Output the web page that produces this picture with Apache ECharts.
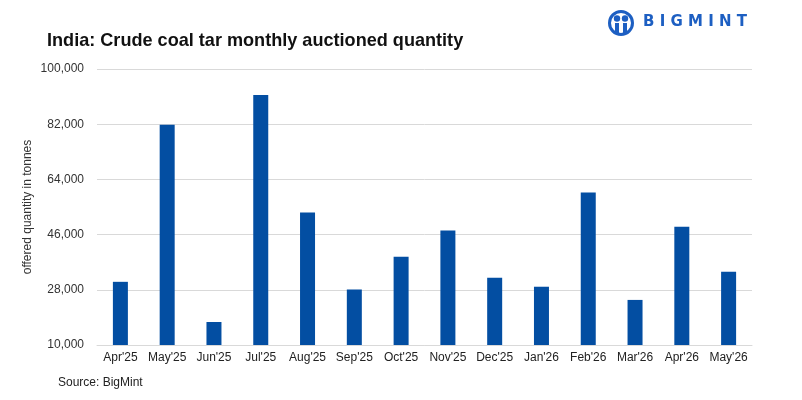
<!DOCTYPE html>
<html>
<head>
<meta charset="utf-8">
<script src="https://cdn.jsdelivr.net/npm/echarts@6/dist/echarts.min.js"></script>
<style>
html, body { margin: 0; padding: 0; background: #fff; }
#main { width: 802px; height: 400px; }
</style>
</head>
<body>
<div id="main"></div>
<script>
var months = ["Apr'25", "May'25", "Jun'25", "Jul'25", "Aug'25", "Sep'25", "Oct'25",
  "Nov'25", "Dec'25", "Jan'26", "Feb'26", "Mar'26", "Apr'26", "May'26"];
var quantity = [30600, 81800, 17500, 91500, 53200, 28100, 38800,
  47300, 31900, 29000, 59700, 24700, 48600, 33900];

var chart = echarts.init(document.getElementById('main'), null, {renderer: 'canvas'});
var option = {
  animation: false,
  title: {
    text: 'India: Crude coal tar monthly auctioned quantity',
    left: 42,
    top: 27,
    textStyle: {
      fontFamily: 'Liberation Sans',
      fontWeight: 'bold',
      fontSize: 18.1,
      color: '#111'
    }
  },
  grid: {left: 97, right: 50, top: 69, bottom: 55},
  xAxis: {
    type: 'category',
    data: months,
    axisTick: {show: false},
    axisLine: {lineStyle: {color: '#d9d9d9'}},
    axisLabel: {
      interval: 0,
      color: '#222',
      fontFamily: 'Liberation Sans',
      fontSize: 12,
      margin: 7
    }
  },
  yAxis: {
    type: 'value',
    min: 10000,
    max: 100000,
    interval: 18000,
    name: 'offered quantity in tonnes',
    nameLocation: 'middle',
    nameMoveOverlap: false,
    nameGap: 63,
    nameTextStyle: {
      color: '#333',
      fontFamily: 'Liberation Sans',
      fontSize: 12
    },
    axisLine: {show: false},
    axisTick: {show: false},
    axisLabel: {
      color: '#333',
      fontFamily: 'Liberation Sans',
      fontSize: 12,
      margin: 13,
      formatter: function (v) { return v.toLocaleString('en-US'); }
    },
    splitLine: {lineStyle: {color: '#d9d9d9'}}
  },
  series: [{
    type: 'bar',
    data: quantity,
    barWidth: 15,
    itemStyle: {color: '#034ea2'}
  }],
  graphic: [
    {
      type: 'text',
      left: 58,
      top: 377,
      style: {
        text: 'Source: BigMint',
        fill: '#222',
        font: '12px "Liberation Sans"'
      }
    },
    {
      type: 'group',
      left: 607,
      top: 9,
      children: [
        {type: 'circle', shape: {cx: 13, cy: 13, r: 11.5}, style: {fill: 'none', stroke: '#1d5fc2', lineWidth: 3}},
        {type: 'circle', shape: {cx: 9, cy: 8.5, r: 3.2}, style: {fill: '#1d5fc2'}},
        {type: 'circle', shape: {cx: 17, cy: 8.5, r: 3.2}, style: {fill: '#1d5fc2'}},
        {type: 'rect', shape: {x: 7, y: 13, width: 4, height: 11}, style: {fill: '#1d5fc2'}},
        {type: 'rect', shape: {x: 15, y: 13, width: 4, height: 11}, style: {fill: '#1d5fc2'}},
        {
          type: 'text',
          x: 35,
          y: 5,
          style: {
            text: 'B I G M I N T',
            fill: '#1d5fc2',
            font: 'bold 15px "DejaVu Sans"'
          }
        }
      ]
    }
  ]
};
chart.setOption(option);
</script>
</body>
</html>
